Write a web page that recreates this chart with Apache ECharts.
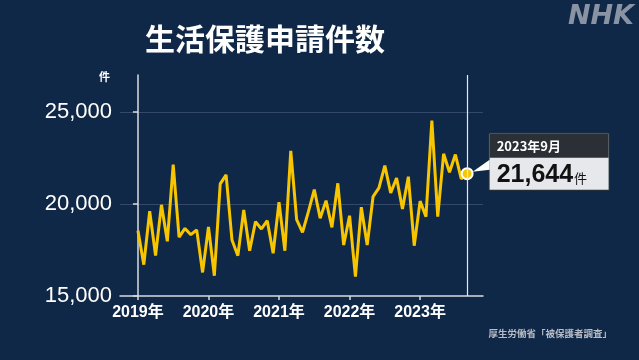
<!DOCTYPE html>
<html>
<head>
<meta charset="utf-8">
<script src="https://cdn.jsdelivr.net/npm/echarts@6/dist/echarts.min.js"></script>
<style>
html,body{margin:0;padding:0;background:#102847;}
#c{width:639px;height:360px;}
</style>
</head>
<body>
<div id="c"></div>
<script>
const years = ['2019年','2020年','2021年','2022年','2023年'];
const yearTickIndex = [0, 12, 24, 36, 48];
const applications = [
  18550, 16700, 19600, 17200, 19950, 17970, 22140, 18190, 18670, 18330, 18590, 16280,
  18750, 16100, 21090, 21580, 18040, 17190, 19670, 17460, 19040, 18640, 19090, 17320,
  20090, 17460, 22880, 19150, 18460, 19580, 20780, 19220, 20180, 18730, 21120, 17770,
  19360, 16050, 19820, 17770, 20400, 20870, 22080, 20600, 21410, 19730, 21480, 17730,
  20150, 19310, 24530, 19310, 22720, 21720, 22680, 21360, 21644
];
const lastLabel = '2023年9月';
const yTicks = [15000, 20000, 25000];

const FONT = '"Noto Sans CJK JP", "Noto Sans", sans-serif';
const NUMFONT = '"Liberation Sans", "Noto Sans CJK JP", sans-serif';
const lastIdx = applications.length - 1;
const seriesData = applications.map((v, i) => {
  if (i !== lastIdx) return [i, v];
  return {
    value: [i, v],
    symbol: 'circle',
    symbolSize: 11,
    itemStyle: { color: '#f7c600', borderColor: '#ffffff', borderWidth: 2 },
    label: {
      show: true,
      position: 'right',
      distance: 16,
      offset: [0, -12],
      formatter: '{h|' + lastLabel + '}\n{v|' + v.toLocaleString('en-US') + '}{u|件}',
      backgroundColor: '#e6e8eb',
      borderColor: '#2a3035',
      borderWidth: 1,
      padding: 0,
      rich: {
        h: { backgroundColor: '#2a3035', color: '#ffffff', fontSize: 13, fontWeight: 'bold',
             fontFamily: FONT, width: 112, height: 24, padding: [0, 0, 0, 7], align: 'left' },
        v: { color: '#111111', fontSize: 25, fontWeight: 'bold', fontFamily: NUMFONT,
             padding: [5, 0, 3, 7], lineHeight: 32 },
        u: { color: '#111111', fontSize: 13, fontFamily: FONT, padding: [9, 0, 0, 1] }
      }
    }
  };
});

const chart = echarts.init(document.getElementById('c'));
chart.setOption({
  backgroundColor: '#102847',
  animation: false,
  title: {
    text: '生活保護申請件数',
    left: 140, top: 19,
    textStyle: { color: '#ffffff', fontSize: 30, fontWeight: 'bold', fontFamily: FONT }
  },
  graphic: [
    { type: 'text', right: 5, top: 3,
      style: { text: 'NHK', fill: '#8a93a3', font: 'italic 900 27px "DejaVu Sans", sans-serif' } },
    { type: 'text', left: 99, top: 71,
      style: { text: '件', fill: '#ffffff', font: 'bold 11px ' + FONT } },
    { type: 'text', right: 27, top: 329,
      style: { text: '厚生労働省「被保護者調査」', fill: '#b7bcc6', font: 'bold 9.5px ' + FONT } }
  ],
  grid: { left: 120, right: 156, top: 75, bottom: 64, containLabel: false },
  xAxis: {
    type: 'value',
    min: -3.05, max: 58.7,
    splitLine: { show: false },
    axisLine: { show: true, lineStyle: { color: '#d8dbe0', width: 1.5 } },
    axisTick: { show: true, customValues: yearTickIndex, length: 4, inside: false,
                lineStyle: { color: '#d8dbe0', width: 1.5 } },
    axisLabel: {
      customValues: yearTickIndex,
      formatter: v => years[yearTickIndex.indexOf(Math.round(v))] || '',
      color: '#ffffff', fontSize: 16, fontWeight: 'bold', fontFamily: NUMFONT, margin: 9
    }
  },
  yAxis: {
    type: 'value',
    min: 15000, max: 27000,
    axisLine: { show: true, lineStyle: { color: '#d8dbe0', width: 1.5 } },
    axisTick: { show: true, customValues: yTicks, length: 5, lineStyle: { color: '#d8dbe0', width: 1.5 } },
    axisLabel: {
      customValues: yTicks,
      formatter: v => v.toLocaleString('en-US'),
      color: '#ffffff', fontSize: 22, fontFamily: NUMFONT, margin: 8
    },
    splitLine: { show: true, showMinLine: false, lineStyle: { color: '#34486a', width: 1 } },
    interval: 5000
  },
  series: [{
    type: 'line',
    data: seriesData,
    showSymbol: true,
    symbol: 'none',
    lineStyle: { color: '#f7c600', width: 3 },
    itemStyle: { color: '#f7c600' },
    z: 3,
    markLine: {
      silent: true,
      symbol: 'none',
      label: { show: false },
      lineStyle: { color: '#e6e8eb', width: 1.2, type: 'solid' },
      data: [ [ { coord: [lastIdx, 15000] }, { coord: [lastIdx, 27000] } ] ]
    },
    markPoint: {
      silent: true,
      symbol: 'path://M0,12 L20,0 L20,10 Z',
      symbolSize: [17, 12],
      symbolOffset: [14, -8],
      itemStyle: { color: '#ffffff' },
      label: { show: false },
      data: [ { coord: [lastIdx, applications[lastIdx]] } ]
    }
  }]
});
</script>
</body>
</html>
